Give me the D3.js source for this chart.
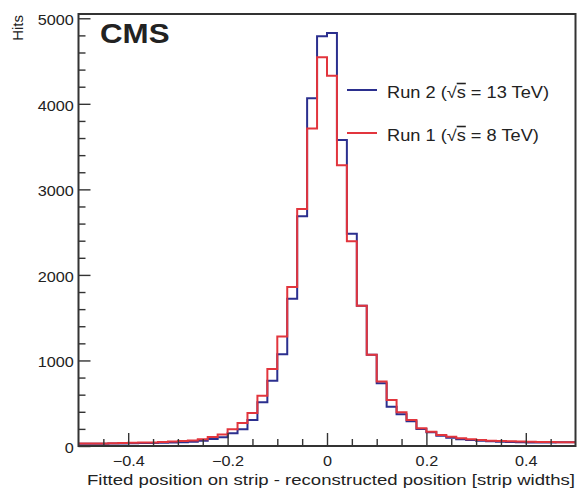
<!DOCTYPE html>
<html>
<head>
<meta charset="utf-8">
<script src="https://cdn.jsdelivr.net/npm/d3@7"></script>
<style>
html,body{margin:0;padding:0;background:#fff;}
svg{display:block;}
text{font-family:"Liberation Sans",Arial,Helvetica,sans-serif;fill:#222;}
</style>
</head>
<body>
<svg id="chart" width="577" height="488"></svg>
<script>
// ---- data ----
const histRange = [-0.5, 0.5];
const nBins = 50;
// Run 2 (sqrt(s) = 13 TeV), hits per bin
const run2Counts = [25, 25, 27, 28, 30, 32, 34, 36, 38, 40,
                    45, 50, 60, 82, 102, 149, 196, 305, 512, 762,
                    1074, 1722, 2687, 4066, 4789, 4827, 3577, 2480, 1640, 1066,
                    735, 460, 370, 290, 200, 160, 120, 95, 80, 70,
                    60, 55, 50, 47, 45, 42, 40, 42, 44, 45];
// Run 1 (sqrt(s) = 8 TeV), hits per bin
const run1Counts = [30, 28, 30, 32, 35, 37, 40, 42, 48, 52,
                    58, 65, 80, 105, 135, 195, 270, 385, 586, 900,
                    1280, 1860, 2770, 3711, 4543, 4327, 3281, 2394, 1640, 1066,
                    753, 539, 395, 305, 207, 168, 129, 109, 90, 78,
                    70, 62, 58, 55, 52, 50, 48, 46, 45, 45];
const xTicks = [-0.4, -0.2, 0, 0.2, 0.4];
const xTickLabels = ["\u22120.4", "\u22120.2", "0", "0.2", "0.4"];
const xMinorTicks = [-0.45,-0.35,-0.3,-0.25,-0.15,-0.1,-0.05,0.05,0.1,0.15,0.25,0.3,0.35,0.45];
const yTicks = [0, 1000, 2000, 3000, 4000, 5000];
const yMinorTicks = [200,400,600,800,1200,1400,1600,1800,2200,2400,2600,2800,3200,3400,3600,3800,4200,4400,4600,4800];
const yMax = 5050;
const seriesNames = ["Run 2", "Run 1"];
const seriesEnergies = ["13 TeV", "8 TeV"];
const seriesColors = ["#2b2f8e", "#e2353d"];

// ---- layout ----
const X0 = 78.5, X1 = 575.5, Y0 = 446, Y1 = 14;
const SX = 1.16; // horizontal text stretch seen in reference

const svg = d3.select("#chart");
const x = d3.scaleLinear().domain(histRange).range([X0, X1]);
const y = d3.scaleLinear().domain([0, yMax]).range([Y0, Y1]);

const edges = d3.range(nBins + 1).map(i => histRange[0] + i * (histRange[1] - histRange[0]) / nBins);

function stepPoints(counts) {
  const pts = counts.map((v, i) => [edges[i], v]);
  pts.push([edges[nBins], counts[nBins - 1]]);
  return pts;
}
const line = d3.line().x(d => x(d[0])).y(d => y(d[1])).curve(d3.curveStepAfter);

// histograms: Run 2 first, Run 1 on top
[run2Counts, run1Counts].forEach((c, k) => {
  svg.append("path")
    .attr("d", line(stepPoints(c)))
    .attr("fill", "none")
    .attr("stroke", seriesColors[k])
    .attr("stroke-width", 2);
});

// axes
function styleAxis(g) {
  g.select(".domain").remove();
  g.selectAll(".tick line").attr("stroke", "#333").attr("stroke-width", 1.4);
}
svg.append("g").attr("transform", `translate(0,${Y0})`)
  .call(d3.axisBottom(x).tickValues(xMinorTicks).tickSize(-7).tickFormat(""))
  .call(styleAxis);
const gx = svg.append("g").attr("transform", `translate(0,${Y0})`)
  .call(d3.axisBottom(x).tickValues(xTicks).tickSize(-13).tickPadding(10)
        .tickFormat((d, i) => xTickLabels[i]))
  .call(styleAxis);
gx.selectAll(".tick text").attr("font-size", 14).attr("fill", "#222")
  .attr("font-family", "Liberation Sans, Arial, sans-serif")
  .attr("transform", `scale(${SX},1)`);

svg.append("g").attr("transform", `translate(${X0},0)`)
  .call(d3.axisLeft(y).tickValues(yMinorTicks).tickSize(-7).tickFormat(""))
  .call(styleAxis);
const gy = svg.append("g").attr("transform", `translate(${X0},0)`)
  .call(d3.axisLeft(y).tickValues(yTicks).tickSize(-12).tickPadding(4).tickFormat(d3.format("d")))
  .call(styleAxis);
gy.selectAll(".tick text").attr("font-size", 14).attr("fill", "#222")
  .attr("font-family", "Liberation Sans, Arial, sans-serif")
  .attr("dy", "0.45em")
  .attr("transform", `scale(${SX},1)`);

// frame
svg.append("rect")
  .attr("x", X0).attr("y", Y1).attr("width", X1 - X0).attr("height", Y0 - Y1)
  .attr("fill", "none").attr("stroke", "#333").attr("stroke-width", 2);

// axis titles
svg.append("text")
  .attr("x", 575).attr("y", 484.5)
  .attr("text-anchor", "end")
  .attr("font-size", 15.5)
  .attr("textLength", 488).attr("lengthAdjust", "spacingAndGlyphs")
  .text("Fitted position on strip - reconstructed position [strip widths]");

svg.append("text")
  .attr("transform", "translate(23,15) rotate(-90)")
  .attr("text-anchor", "end")
  .attr("font-size", 15)
  .text("Hits");

// CMS label
svg.append("text")
  .attr("transform", `translate(100,43) scale(${SX},1)`)
  .attr("font-size", 27).attr("font-weight", "bold").attr("fill", "#111")
  .text("CMS");

// legend
const legY = [90, 133];
seriesNames.forEach((name, k) => {
  svg.append("line")
    .attr("x1", 347).attr("x2", 377).attr("y1", legY[k]).attr("y2", legY[k])
    .attr("stroke", seriesColors[k]).attr("stroke-width", 2);
  const t = svg.append("text")
    .attr("transform", `translate(387,${legY[k] + 7.5}) scale(${SX},1)`)
    .attr("font-size", 15.7);
  t.append("tspan").text(name + " (\u221A");
  t.append("tspan").attr("text-decoration", "overline").text("s");
  t.append("tspan").text(" = " + seriesEnergies[k] + ")");
});
</script>
</body>
</html>
